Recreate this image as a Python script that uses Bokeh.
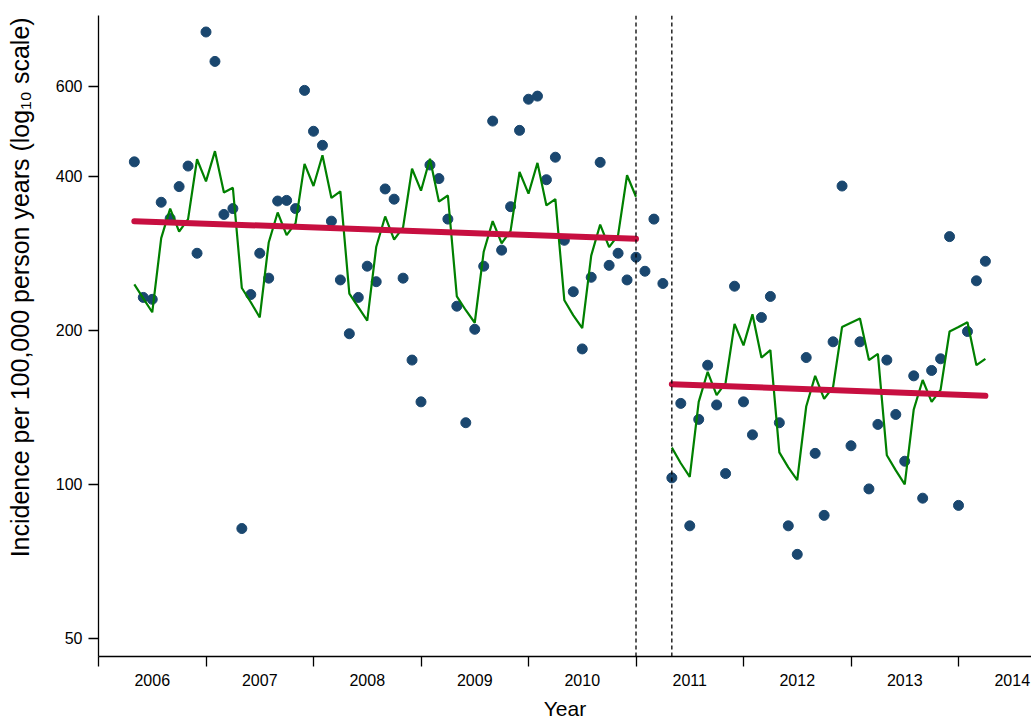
import pandas as pd
from bokeh.plotting import figure
from bokeh.models import (Range1d, FixedTicker, Span, PrintfTickFormatter,
                          CustomJSTickFormatter)
from bokeh.embed import file_html
from bokeh.resources import INLINE

FONT = "Liberation Sans"

# ---- data ----
# monthly observations, May 2006 .. April 2014
obs_start, obs_end = "2006-05", "2014-04"
observed = [
    427, 232, 230, 356, 331, 382, 419, 283, 766, 671, 337, 346, 82, 235,
    283, 253, 358, 359, 346, 589, 490, 460, 327, 251, 197, 232, 267, 249, 378, 361, 253, 175,
    145, 421, 396, 330, 223, 132, 201, 267, 513, 287, 349, 492, 566, 574, 394, 436, 300,
    238, 184, 254, 426, 268, 283, 251, 278, 261, 330, 247, 103, 144, 83, 134, 171, 143,
    105, 244, 145, 125, 212, 233, 132, 83, 73, 177, 115, 87, 190, 383, 119, 190, 98,
    131, 175, 137, 111, 163, 94, 167, 176, 305, 91, 199, 250, 273,
]

# seasonal model fit, pre-intervention: May 2006 .. Jan 2011
pre_start, pre_end = "2006-05", "2011-01"
fit_pre = [
    246, 231, 217, 303, 346, 312, 330, 432, 391, 448, 372, 380,
    242, 227, 212, 297, 340, 307, 324, 423, 383, 440, 363, 374,
    236, 222, 209, 291, 334, 301, 318, 414, 375, 433, 357, 367,
    233, 219, 207, 285, 327, 296, 313, 408, 370, 425, 351, 361,
    229, 214, 202, 280, 322, 291, 307, 402, 365,
]
# seasonal model fit, post-intervention: May 2011 .. Apr 2014
post_start, post_end = "2011-05", "2014-04"
fit_post = [
    118, 110, 103.5, 145, 166, 149.5, 158, 206, 187, 215, 177, 183,
    115.5, 108, 102, 142, 163, 147, 155, 203, 207, 211, 175, 180,
    114, 106.5, 100, 140, 160, 145, 153, 199, 203, 207.5, 171, 176,
]
# deseasonalised trend lines (start, end values)
trend_pre = [327, 302]
trend_post = [157, 149]

# intervention period boundaries
interventions = ["2011-01", "2011-05"]

year_labels = ["2006", "2007", "2008", "2009", "2010", "2011", "2012", "2013", "2014"]
y_ticks = [50, 100, 200, 400, 600]
y_title = "Incidence per 100,000 person years (log\u2081\u2080 scale)"
x_title = "Year"


def dec_year(s):
    d = pd.Timestamp(s)
    return d.year + (d.month - 1) / 12.0


def month_series(a, b):
    return [dec_year(d) for d in pd.date_range(a, b, freq="MS")]


x_obs = month_series(obs_start, obs_end)
x_pre = month_series(pre_start, pre_end)
x_post = month_series(post_start, post_end)

p = figure(
    width=1031, height=722,
    x_range=Range1d(2006, 2014.679),
    y_range=Range1d(46.1, 825),
    y_axis_type="log",
    output_backend="svg", toolbar_location=None,
    min_border_left=98, min_border_right=0, min_border_top=15, min_border_bottom=66,
)
p.outline_line_color = None
p.xgrid.visible = False
p.ygrid.visible = False
p.background_fill_color = "white"

p.scatter(x_obs, observed, size=10, color="#1a476f", line_color="#1a476f")
p.line(x_pre, fit_pre, line_color="#008000", line_width=2.2)
p.line(x_post, fit_post, line_color="#008000", line_width=2.2)
p.line([x_pre[0], x_pre[-1]], trend_pre, line_color="#c70f40", line_width=6, line_cap="round")
p.line([x_post[0], x_post[-1]], trend_post, line_color="#c70f40", line_width=6, line_cap="round")

for d in interventions:
    p.add_layout(Span(location=dec_year(d), dimension="height", line_color="black",
                      line_width=1.3, line_dash="4 3"))

# x axis: year labels centred in each year, tick marks at year boundaries
xa = p.xaxis[0]
xa.ticker = FixedTicker(ticks=[int(y) + 0.5 for y in year_labels],
                        minor_ticks=[int(y) for y in year_labels])
xa.formatter = CustomJSTickFormatter(code="return String(Math.floor(tick));")
xa.major_tick_line_color = None
xa.major_tick_out = 0
xa.major_tick_in = 0
xa.minor_tick_line_color = "black"
xa.minor_tick_line_width = 1.3
xa.minor_tick_out = 10
xa.minor_tick_in = 0
xa.axis_line_width = 1.3
xa.axis_line_color = "black"
xa.major_label_text_font = FONT
xa.major_label_text_font_size = "16px"
xa.major_label_text_color = "black"
xa.major_label_standoff = 7
xa.axis_label = x_title
xa.axis_label_text_font = FONT
xa.axis_label_text_font_size = "21px"
xa.axis_label_text_font_style = "normal"
xa.axis_label_text_color = "black"
xa.axis_label_standoff = 8

ya = p.yaxis[0]
ya.ticker = FixedTicker(ticks=y_ticks)
ya.formatter = PrintfTickFormatter(format="%d")
ya.minor_tick_line_color = None
ya.major_tick_out = 10
ya.major_tick_in = 0
ya.major_tick_line_width = 1.3
ya.major_tick_line_color = "black"
ya.axis_line_width = 1.3
ya.axis_line_color = "black"
ya.major_label_text_font = FONT
ya.major_label_text_font_size = "16px"
ya.major_label_text_color = "black"
ya.major_label_standoff = 6
# title sits above the frame centre in the reference: pad its start with no-break spaces
ya.axis_label = "\u00a0" * 14 + y_title
ya.axis_label_text_font = FONT
ya.axis_label_text_font_size = "25px"
ya.axis_label_text_font_style = "normal"
ya.axis_label_text_color = "black"
ya.axis_label_standoff = 19

open("out.html", "w").write(file_html(p, INLINE))
